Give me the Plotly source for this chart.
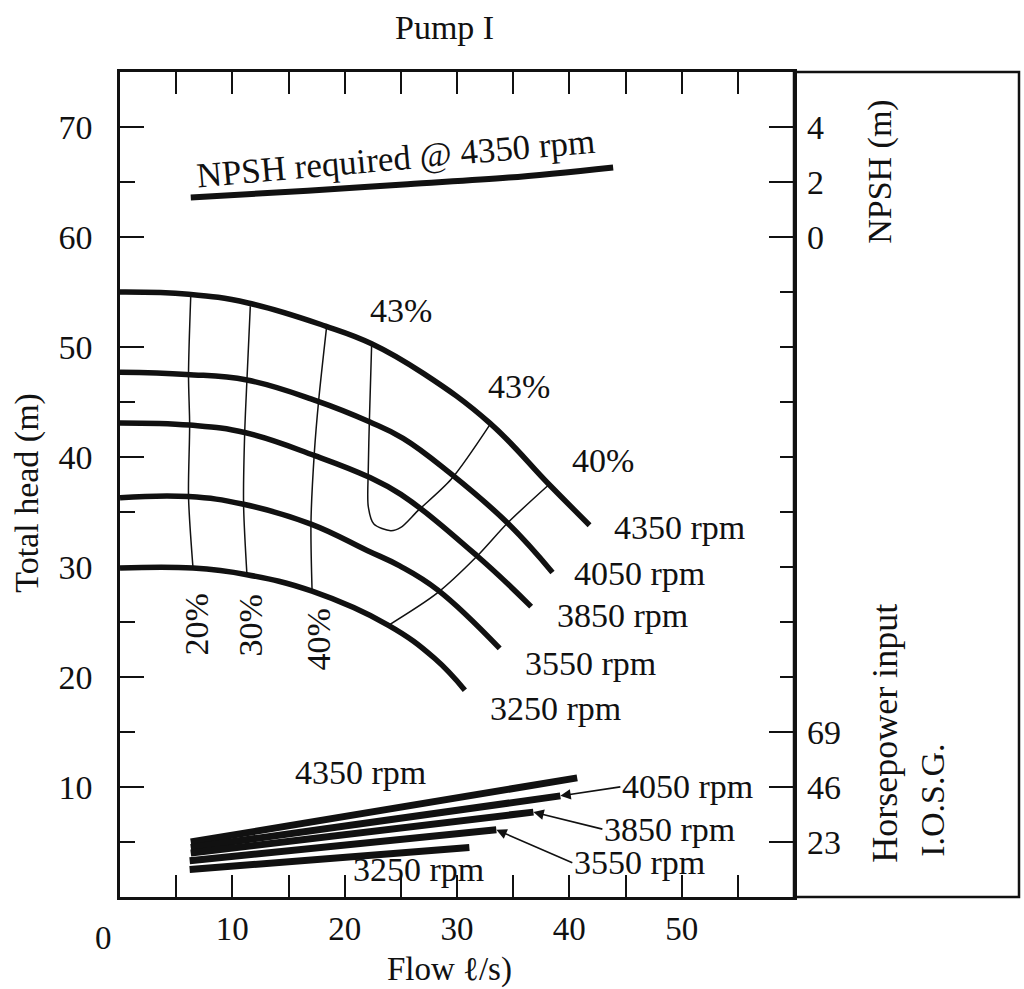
import plotly.graph_objects as go

# ---------------- data (flow in l/s, head in m) ----------------
flow_4350 = [0, 6.1, 11.4, 18.3, 22.4, 27.0, 32.9, 38.2, 41.8]
head_4350 = [55.0, 54.8, 54.0, 51.9, 50.3, 47.6, 43.1, 37.5, 33.8]
flow_4050 = [0, 5.9, 11.3, 17.5, 22.2, 25.2, 29.3, 34.5, 38.5]
head_4050 = [47.7, 47.5, 47.0, 45.1, 43.2, 41.7, 38.6, 34.0, 29.5]
flow_3850 = [0, 6.2, 11.2, 17.4, 22.1, 25.0, 31.8, 36.6]
head_3850 = [43.1, 42.9, 42.2, 40.1, 38.2, 36.6, 31.0, 26.4]
flow_3550 = [0, 6.1, 11.0, 17.0, 22.0, 24.9, 28.3, 33.8]
head_3550 = [36.3, 36.4, 35.7, 33.9, 31.5, 30.1, 27.9, 22.6]
flow_3250 = [0, 6.5, 11.3, 17.1, 23.9, 28.0, 30.7]
head_3250 = [29.9, 29.9, 29.3, 27.8, 24.7, 21.7, 18.8]
speed_labels = ["4350 rpm", "4050 rpm", "3850 rpm", "3550 rpm", "3250 rpm"]

# iso-efficiency lines
eff20_flow = [6.3, 6.1, 6.2, 6.1, 6.5]
eff20_head = [54.7, 47.5, 42.9, 36.4, 29.9]
eff30_flow = [11.6, 11.3, 11.1, 11.0, 11.3]
eff30_head = [53.7, 47.0, 42.2, 35.7, 29.3]
eff40a_flow = [18.4, 17.7, 17.3, 17.0, 17.1]
eff40a_head = [51.9, 45.3, 40.4, 34.0, 27.8]
eff43_flow = [22.4, 22.2, 22.1, 22.1, 22.6, 24.1, 25.0, 26.5, 29.5, 32.9]
eff43_head = [50.2, 43.3, 38.8, 35.5, 33.9, 33.3, 33.6, 35.1, 38.0, 42.9]
eff40b_flow = [38.2, 34.5, 31.8, 28.2, 23.9]
eff40b_head = [37.5, 34.0, 31.0, 27.6, 24.7]

# NPSH required @ 4350 rpm (m)
npsh_flow = [6.3, 16.7, 25.6, 34.6, 43.9]
npsh_m = [1.44, 1.68, 1.92, 2.16, 2.53]

# horsepower input (I.O.S.G.)
hp_flow_4350 = [6.3, 40.7]
hp_4350 = [23.0, 49.8]
hp_flow_4050 = [6.3, 39.2]
hp_4050 = [20.7, 42.3]
hp_flow_3850 = [6.3, 36.8]
hp_3850 = [18.4, 35.5]
hp_flow_3550 = [6.2, 33.5]
hp_3550 = [15.2, 28.1]
hp_flow_3250 = [6.2, 31.1]
hp_3250 = [11.5, 20.7]

x_ticks = [10, 20, 30, 40, 50]
head_ticks = [10, 20, 30, 40, 50, 60, 70]
npsh_ticks = [0, 2, 4]
hp_ticks = [23, 46, 69]

FONT = "Liberation Serif"
FS = 34
BLACK = "#111111"

fig = go.Figure()

head_curves = [(flow_4350, head_4350), (flow_4050, head_4050), (flow_3850, head_3850),
               (flow_3550, head_3550), (flow_3250, head_3250)]
for fl, hd in head_curves:
    fig.add_trace(go.Scatter(x=fl, y=hd, mode="lines", showlegend=False,
                             line=dict(color=BLACK, width=5.5, shape="spline", smoothing=1.2),
                             hoverinfo="skip"))

for fl, hd in [(eff20_flow, eff20_head), (eff30_flow, eff30_head), (eff40a_flow, eff40a_head),
               (eff43_flow, eff43_head), (eff40b_flow, eff40b_head)]:
    fig.add_trace(go.Scatter(x=fl, y=hd, mode="lines", showlegend=False, yaxis="y2",
                             line=dict(color=BLACK, width=1.5, shape="spline", smoothing=0.8),
                             hoverinfo="skip"))

fig.add_trace(go.Scatter(x=npsh_flow, y=npsh_m, mode="lines", showlegend=False, yaxis="y3",
                         line=dict(color=BLACK, width=6, shape="spline"), hoverinfo="skip"))

hp_lines = [(hp_flow_4350, hp_4350), (hp_flow_4050, hp_4050), (hp_flow_3850, hp_3850),
            (hp_flow_3550, hp_3550), (hp_flow_3250, hp_3250)]
for fl, hp in hp_lines:
    fig.add_trace(go.Scatter(x=fl, y=hp, mode="lines", showlegend=False, yaxis="y4",
                             line=dict(color=BLACK, width=7), hoverinfo="skip"))

ann = []
# speed labels at the end of head curves
offsets = [(22, -2), (20, -1), (24, -9), (23, -15), (23, -18)]
for (fl, hd), lab, (dx, dy) in zip(head_curves, speed_labels, offsets):
    ann.append(dict(x=fl[-1], y=hd[-1], xref="x", yref="y", text=lab, showarrow=False,
                    xanchor="left", yanchor="middle", xshift=dx, yshift=dy))

# efficiency and other in-plot labels
ann += [
    dict(x=25.0, y=53.3, text="43%"),
    dict(x=35.5, y=46.4, text="43%"),
    dict(x=43.0, y=39.7, text="40%"),
    dict(x=6.8, y=24.8, text="20%", textangle=-90),
    dict(x=11.6, y=24.7, text="30%", textangle=-90),
    dict(x=17.7, y=23.4, text="40%", textangle=-90),
    dict(x=24.6, y=67.1, text="NPSH required @ 4350 rpm", textangle=-5, font=dict(size=35)),
    dict(x=21.4, y=11.3, text="4350 rpm"),
    dict(x=26.6, y=2.5, text="3250 rpm"),
]
for a in ann:
    a.setdefault("xref", "x")
    a.setdefault("yref", "y")
    a.setdefault("showarrow", False)
    a.setdefault("xanchor", "center")
    a.setdefault("yanchor", "middle")

# arrowed horsepower labels
for (fl, hp), lab, (ax, ay) in zip(hp_lines[1:4], speed_labels[1:4], [(60, -9), (69, 17), (76, 33)]):
    ann.append(dict(x=fl[-1], y=hp[-1], xref="x", yref="y4", text=lab, showarrow=True,
                    ax=ax, ay=ay, xanchor="left", yanchor="middle", arrowhead=2,
                    arrowsize=1.3, arrowwidth=1.6, arrowcolor=BLACK, standoff=0))

# axis titles and extra labels
extra = [
    dict(x=0.482, y=(897 - 27) / 825, text="Pump I"),
    dict(x=-0.138, y=0.49, text="Total head (m)", textangle=-90),
    dict(x=0.4896, y=(897 - 969) / 825, text="Flow ℓ/s)", font=dict(size=33)),
    dict(x=1.1276, y=0.879, text="NPSH (m)", textangle=-90),
    dict(x=1.135, y=0.199, text="Horsepower input", textangle=-90, font=dict(size=36)),
    dict(x=1.206, y=0.1176, text="I.O.S.G.", textangle=-90),
]
for a in extra:
    a.update(xref="paper", yref="paper", showarrow=False, xanchor="center", yanchor="middle")
ann += extra
ann.append(dict(x=0, y=(897 - 938) / 825, xref="x", yref="paper", text="0", showarrow=False,
                xshift=-17, xanchor="center", yanchor="middle", font=dict(size=33)))

fig.update_layout(
    width=1024, height=989,
    margin=dict(l=120, r=230, t=72, b=92),
    paper_bgcolor="white", plot_bgcolor="white",
    font=dict(family=FONT, size=FS, color=BLACK),
    showlegend=False,
    annotations=ann,
    shapes=[dict(type="rect", xref="paper", yref="paper", x0=1, x1=1 + (1019 - 794) / 674,
                 y0=0, y1=1, line=dict(color=BLACK, width=2.5), layer="above")],
    xaxis=dict(range=[0, 60], showline=True, linewidth=2.5, linecolor=BLACK, mirror="allticks",
               ticks="inside", ticklen=22, tickwidth=1.5, tickcolor=BLACK,
               tickvals=x_ticks, ticktext=[str(v) for v in x_ticks], tickfont=dict(size=33),
               minor=dict(dtick=5, tick0=0, ticks="inside", ticklen=12, tickwidth=1.5,
                          tickcolor=BLACK, showgrid=False),
               showgrid=False, zeroline=False, ticklabelstandoff=1),
    yaxis=dict(range=[0, 75], showline=True, linewidth=2.5, linecolor=BLACK,
               ticks="inside", ticklen=24, tickwidth=1.5, tickcolor=BLACK,
               tickvals=head_ticks, ticktext=[str(v) for v in head_ticks],
               minor=dict(dtick=5, tick0=0, ticks="inside", ticklen=15, tickwidth=1.5,
                          tickcolor=BLACK, showgrid=False),
               showgrid=False, zeroline=False, ticklabelstandoff=18),
    yaxis2=dict(range=[0, 75], overlaying="y", side="right", anchor="x", showline=True,
                linewidth=2.5, linecolor=BLACK, ticks="inside", ticklen=14, tickwidth=1.5,
                tickcolor=BLACK, tickvals=list(range(5, 75, 5)), showticklabels=False,
                showgrid=False, zeroline=False),
    yaxis3=dict(range=[-24, 6], overlaying="y", side="right", anchor="x", showline=False,
                ticks="inside", ticklen=25, tickwidth=1.5, tickcolor=BLACK,
                tickvals=npsh_ticks, ticktext=[str(v) for v in npsh_ticks],
                showgrid=False, zeroline=False, ticklabelstandoff=12),
    yaxis4=dict(range=[0, 345], overlaying="y", side="right", anchor="x", showline=False,
                ticks="inside", ticklen=25, tickwidth=1.5, tickcolor=BLACK,
                tickvals=hp_ticks, ticktext=[str(v) for v in hp_ticks],
                showgrid=False, zeroline=False, ticklabelstandoff=12),
)

fig.write_html("out.html", config={"displayModeBar": False},
               post_script="document.body.style.margin='0';document.body.style.overflow='hidden';")
